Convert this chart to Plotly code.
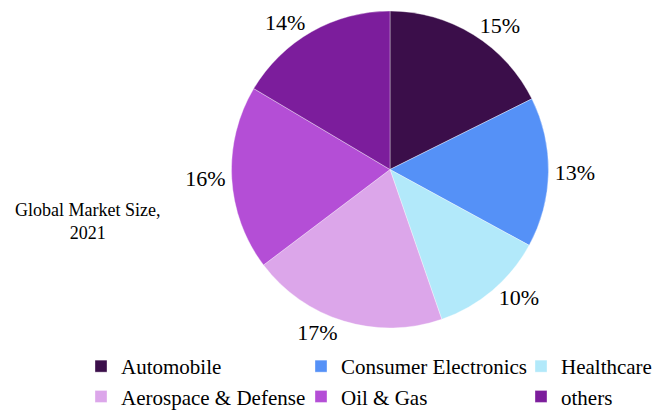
import plotly.graph_objects as go

# Market share by end-use segment (percent)
segments = ["Automobile", "Consumer Electronics", "Healthcare",
            "Aerospace & Defense", "Oil & Gas", "others"]
shares = [15, 13, 10, 17, 16, 14]
colors = ["#3B0E4A", "#5591F7", "#B2E9FA", "#DCA6EA", "#B44ED6", "#7C1D9C"]

W, H = 661, 413
FONT = "Liberation Serif"

fig = go.Figure(
    go.Pie(
        labels=segments,
        values=shares,
        sort=False,
        direction="clockwise",
        rotation=0,
        marker=dict(colors=colors, line=dict(color="rgba(255,255,255,0.6)", width=0.6)),
        texttemplate="%{value}%",
        textposition="outside",
        textfont=dict(family=FONT, size=22, color="#000000"),
        domain=dict(x=[231.5 / W, 548.5 / W], y=[1 - 328 / H, 1 - 11 / H]),
        hoverinfo="label+value",
    )
)

fig.add_annotation(
    text="Global Market Size,<br>2021",
    x=87 / W, y=1 - 222 / H,
    xref="paper", yref="paper",
    xanchor="center", yanchor="middle",
    showarrow=False,
    font=dict(family=FONT, size=18, color="#000000"),
)

fig.update_layout(
    width=W, height=H,
    margin=dict(l=0, r=0, t=0, b=0, autoexpand=False),
    paper_bgcolor="#FFFFFF",
    plot_bgcolor="#FFFFFF",
    font=dict(family=FONT, color="#000000"),
    legend=dict(
        orientation="h",
        x=0, xanchor="left",
        y=1 - 346 / H, yanchor="top",
        indentation=81,
        entrywidth=94, entrywidthmode="pixels",
        font=dict(family=FONT, size=21, color="#000000"),
        bgcolor="rgba(0,0,0,0)",
        traceorder="normal",
    ),
)

fig.write_html("out.html")
